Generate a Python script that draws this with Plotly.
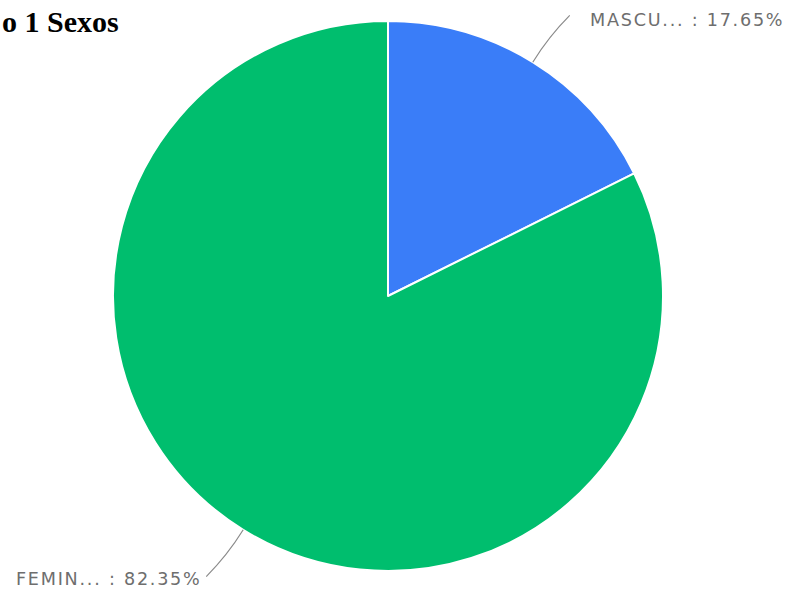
import math
import plotly.graph_objects as go

# Data
labels = ["MASCULINO", "FEMENINO"]
short_labels = ["MASCU...", "FEMIN..."]
values = [17.65, 82.35]
colors = ["#3A7DF8", "#00BE6E"]
title_text = "o 1 Sexos"

W, H = 790, 592
CX, CY, R = 388, 296, 275  # pie centre and radius in pixels


def px(x):
    return x / W


def py(y):
    return 1 - y / H


def spaced(s):
    # widen tracking with hair spaces
    return "\u200a".join(s)


fig = go.Figure(
    go.Pie(
        labels=labels,
        values=values,
        sort=False,
        direction="clockwise",
        rotation=0,
        marker=dict(colors=colors, line=dict(color="white", width=2)),
        textinfo="none",
        hoverinfo="label+percent",
        showlegend=False,
        domain=dict(x=[px(CX - R), px(CX + R)], y=[py(CY + R), py(CY - R)]),
    )
)

# Leader lines and outside labels, placed from each slice's mid-angle
total = sum(values)
shapes = []
annotations = []
cum = 0.0
for lab, v in zip(short_labels, values):
    mid = (cum + v / 2) / total * 2 * math.pi
    cum += v
    dx, dy = math.sin(mid), -math.cos(mid)
    side = 1 if dx >= 0 else -1
    p0 = (CX + R * dx, CY + R * dy)
    c = (CX + (R + 30) * dx, CY + (R + 30) * dy)
    p1 = (CX + (R + 55) * dx + 8 * side, CY + (R + 55) * dy)
    path = "M {} {} Q {} {} {} {}".format(
        px(p0[0]), py(p0[1]), px(c[0]), py(c[1]), px(p1[0]), py(p1[1])
    )
    shapes.append(dict(type="path", xref="paper", yref="paper", path=path,
                       line=dict(color="#8a8a8a", width=1.2)))
    pct = v / total * 100
    gap = 18 if side > 0 else 4
    annotations.append(dict(
        x=px(p1[0] + gap * side), y=py(p1[1] + 5 if side > 0 else p1[1] + 2),
        xref="paper", yref="paper",
        xanchor="left" if side > 0 else "right", yanchor="middle",
        text=spaced(f"{lab} : {pct:.2f}%"), showarrow=False,
        font=dict(family="DejaVu Sans", size=17.6, color="#6e6e6e"),
    ))

annotations.append(dict(
    x=0, y=py(21), xref="paper", yref="paper", xanchor="left", yanchor="middle",
    text=f"<b>{title_text}</b>", showarrow=False,
    font=dict(family="Liberation Serif", size=30, color="black"),
))

fig.update_layout(
    width=W, height=H,
    margin=dict(l=0, r=0, t=0, b=0),
    paper_bgcolor="white", plot_bgcolor="white",
    shapes=shapes, annotations=annotations,
)

fig.write_html("out.html")
